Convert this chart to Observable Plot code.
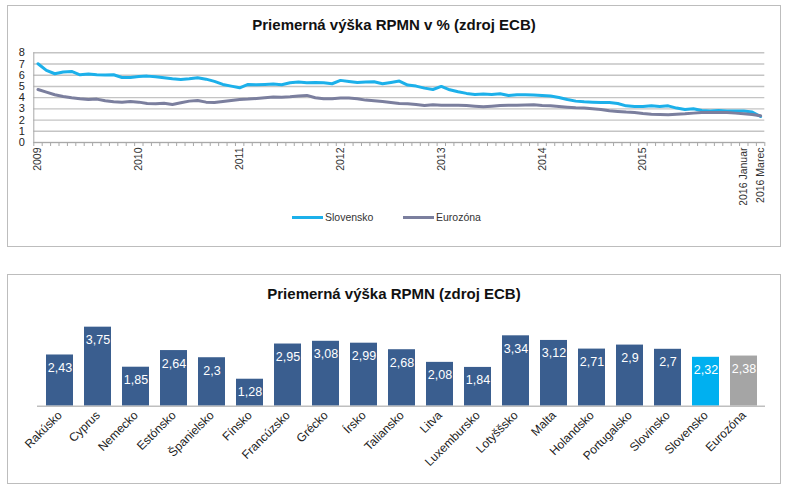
<!DOCTYPE html>
<html><head><meta charset="utf-8">
<script src="https://cdn.jsdelivr.net/npm/d3@7"></script>
<script src="https://cdn.jsdelivr.net/npm/@observablehq/plot@0.6"></script>
<style>
body{margin:0;background:#fff;font-family:"Liberation Sans",Arial,sans-serif;}
#root{position:relative;width:800px;height:490px;}
.box{position:absolute;border:1.5px solid #bdbdbd;box-sizing:border-box;}
.title{position:absolute;left:7px;width:774px;text-align:center;font-weight:bold;font-size:15px;color:#111;line-height:18px;}
.chart{position:absolute;left:7px;}
.leg{position:absolute;font-size:10.5px;color:#333;line-height:12px;}
.sw{position:absolute;height:3px;}
</style></head>
<body><div id="root">
<div class="box" style="left:7px;top:5px;width:774px;height:242px;"></div>
<div class="box" style="left:7px;top:274px;width:774px;height:210px;"></div>
<div class="title" style="top:16px;">Priemerná výška RPMN v % (zdroj ECB)</div>
<div class="title" style="top:285px;">Priemerná výška RPMN (zdroj ECB)</div>
<div id="topChart" class="chart" style="top:45px;"></div>
<div id="bottomChart" class="chart" style="top:305px;"></div>
<div class="sw" style="left:292px;top:215.5px;width:31px;background:#1cb0ea;"></div>
<div class="leg" style="left:325px;top:211px;">Slovensko</div>
<div class="sw" style="left:403px;top:215.5px;width:31px;background:#7b7f9e;"></div>
<div class="leg" style="left:436px;top:211px;">Eurozóna</div>
</div>
<script>
// Monthly series, January 2009 – March 2016
const slovensko = [7.02,6.43,6.13,6.28,6.34,6.04,6.10,6.04,6.01,6.04,5.80,5.80,
  5.89,5.92,5.86,5.77,5.68,5.62,5.68,5.77,5.65,5.45,5.18,5.03,
  4.88,5.18,5.15,5.18,5.21,5.15,5.33,5.39,5.33,5.36,5.33,5.24,
  5.54,5.45,5.36,5.39,5.42,5.24,5.36,5.48,5.12,5.03,4.85,4.73,
  5.00,4.70,4.52,4.38,4.29,4.32,4.29,4.35,4.20,4.26,4.25,4.23,
  4.20,4.14,4.02,3.84,3.69,3.63,3.60,3.57,3.57,3.48,3.27,3.21,
  3.21,3.27,3.21,3.27,3.07,2.95,3.01,2.86,2.80,2.86,2.80,2.80,
  2.80,2.71,2.32];
const eurozona = [4.73,4.49,4.26,4.11,3.99,3.90,3.84,3.87,3.72,3.63,3.60,3.66,
  3.60,3.48,3.45,3.51,3.39,3.54,3.69,3.75,3.60,3.57,3.66,3.75,
  3.84,3.87,3.93,3.99,4.05,4.04,4.08,4.14,4.20,3.99,3.90,3.90,
  3.96,3.96,3.90,3.78,3.72,3.66,3.57,3.48,3.45,3.39,3.30,3.36,
  3.33,3.33,3.33,3.30,3.24,3.18,3.24,3.30,3.33,3.33,3.35,3.36,
  3.30,3.27,3.21,3.15,3.10,3.07,3.01,2.95,2.83,2.77,2.71,2.68,
  2.59,2.53,2.50,2.47,2.53,2.56,2.62,2.68,2.68,2.68,2.68,2.62,
  2.56,2.50,2.38];
const xTickIndex = [0,12,24,36,48,60,72,84,86];
const xTickLabels = ["2009","2010","2011","2012","2013","2014","2015","2016 Januar","2016 Marec"];
const yTicks = [0,1,2,3,4,5,6,7,8];

const countries = ["Rakúsko","Cyprus","Nemecko","Estónsko","Španielsko","Fínsko","Francúzsko","Grécko","Írsko","Taliansko","Litva","Luxembursko","Lotyššsko","Malta","Holandsko","Portugalsko","Slovinsko","Slovensko","Eurozóna"];
const rates = [2.43,3.75,1.85,2.64,2.3,1.28,2.95,3.08,2.99,2.68,2.08,1.84,3.34,3.12,2.71,2.9,2.7,2.32,2.38];

// ---- top line chart ----
const series = slovensko.map((v, i) => ({i, sk: v, ez: eurozona[i]}));
const labelOf = new Map(xTickIndex.map((k, j) => [k, xTickLabels[j]]));
const boundaries = series.map(d => d.i - 0.5).concat([series.length - 0.5]);

const lineChart = Plot.plot({
  width: 774, height: 160,
  marginLeft: 26.3, marginRight: 16.7, marginTop: 7.3, marginBottom: 63,
  style: {fontFamily: '"Liberation Sans", Arial, sans-serif', color: "#222", background: "transparent"},
  x: {type: "linear", domain: [-0.5, series.length - 0.5]},
  y: {domain: [0, 8]},
  marks: [
    Plot.ruleY(yTicks, {stroke: "#c4c4c4", strokeWidth: 1.4}),
    Plot.ruleX([-0.5], {stroke: "#a8a8a8"}),
    Plot.ruleY([0], {stroke: "#a8a8a8"}),
    Plot.axisX(boundaries, {tickSize: 4, tickFormat: () => "", stroke: "#a8a8a8", label: null}),
    Plot.axisX(xTickIndex, {tickSize: 0, tickPadding: 5, tickRotate: -90, tickFormat: d => labelOf.get(d), fontSize: 10.5, fill: "#333", label: null}),
    Plot.axisY(yTicks, {tickSize: 0, tickPadding: 9, fontSize: 11, fill: "#222", label: null}),
    Plot.line(series, {x: "i", y: "sk", stroke: "#1cb0ea", strokeWidth: 3}),
    Plot.line(series, {x: "i", y: "ez", stroke: "#7b7f9e", strokeWidth: 3})
  ]
});
document.getElementById("topChart").appendChild(lineChart);

// ---- bottom bar chart ----
const bars = countries.map((c, k) => ({name: c, value: rates[k]}));
const fmt = v => String(v).replace(".", ",");
const barFill = d => d.name === "Slovensko" ? "#00b0f0" : d.name === "Eurozóna" ? "#a5a5a5" : "#3a5e8f";

const barChart = Plot.plot({
  width: 774, height: 175,
  marginLeft: 30, marginRight: 16, marginTop: 16.4, marginBottom: 74.3,
  style: {fontFamily: '"Liberation Sans", Arial, sans-serif', color: "#222", background: "transparent"},
  x: {domain: countries, paddingInner: 0.29, paddingOuter: 0.145},
  y: {domain: [0, 4], axis: null},
  marks: [
    Plot.barY(bars, {x: "name", y: "value", fill: barFill}),
    Plot.ruleY([0], {stroke: "#bfbfbf", strokeWidth: 1.5}),
    Plot.text(bars, {x: "name", y: "value", text: d => fmt(d.value), dy: 13, fill: "white", fontSize: 12.5}),
    Plot.axisX({tickSize: 0, tickPadding: 7, tickRotate: -45, fontSize: 12, fill: "#222", label: null})
  ]
});
document.getElementById("bottomChart").appendChild(barChart);
</script>
</body></html>
